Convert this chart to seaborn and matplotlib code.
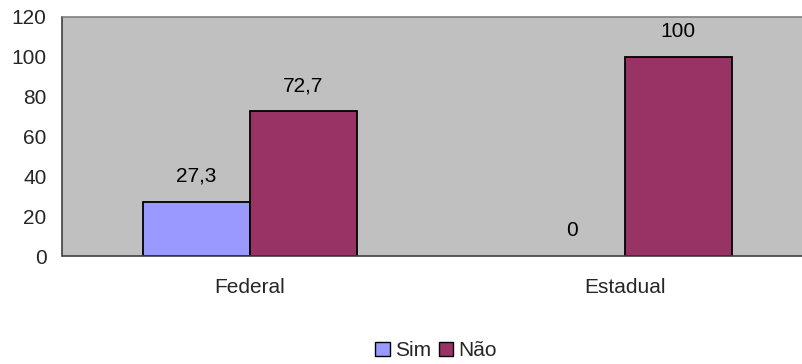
import matplotlib
matplotlib.use("Agg")
import matplotlib.pyplot as plt
import seaborn as sns
import pandas as pd
from matplotlib.patches import Patch

categories = ["Federal", "Estadual"]
series = ["Sim", "Não"]
sim_values = [27.3, 0]
nao_values = [72.7, 100]
yticks = [0, 20, 40, 60, 80, 100, 120]
colors = {"Sim": "#9999FF", "Não": "#993366"}

df = pd.DataFrame({
    "categoria": categories * 2,
    "serie": ["Sim"] * len(categories) + ["Não"] * len(categories),
    "valor": sim_values + nao_values,
})

sns.set_style("white")
plt.rcParams["font.family"] = ["Liberation Sans", "DejaVu Sans"]
FS = 15

fig = plt.figure(figsize=(8.03, 3.64), dpi=100)
ax = fig.add_axes([62.5 / 803, (364 - 256) / 364, (812.5 - 62.5) / 803, (256 - 17) / 364])
ax.set_facecolor("#C0C0C0")

sns.barplot(data=df, x="categoria", y="valor", hue="serie", hue_order=series,
            order=categories, palette=colors, width=0.57, edgecolor="black",
            linewidth=1.3, ax=ax, legend=False, saturation=1)

ax.set_xlim(-0.5, 1.5)
ax.set_ylim(0, 120)
ax.set_yticks(yticks)
ax.set_yticklabels([str(v) for v in yticks], fontsize=FS)
ax.set_xticks([-0.5, 0.5, 1.5])
ax.set_xticklabels(["", "", ""])
ax.set_xticks([0, 1], minor=True)
ax.set_xticklabels(categories, minor=True, fontsize=FS)
ax.tick_params(axis="x", which="minor", length=0, pad=16)
ax.tick_params(axis="x", which="major", length=5, width=1, color="#404040", direction="out")
ax.tick_params(axis="y", length=4.5, width=1, color="#404040", direction="out", pad=7)
ax.set_xlabel("")
ax.set_ylabel("")

for side in ["left", "bottom"]:
    ax.spines[side].set_color("#404040")
    ax.spines[side].set_linewidth(1.2)
ax.spines["top"].set_color("#808080")
ax.spines["top"].set_linewidth(1.2)
ax.spines["right"].set_visible(False)

for container in ax.containers:
    for bar in container:
        h = bar.get_height()
        if h == 0:
            bar.set_linewidth(0)
        label = f"{h:g}".replace(".", ",")
        ax.annotate(label, (bar.get_x() + bar.get_width() / 2, h),
                    xytext=(0, 14.5), textcoords="offset points",
                    ha="center", va="baseline", fontsize=FS, color="black")

handles = [Patch(facecolor=colors[s], edgecolor="black", linewidth=1, label=s) for s in series]
fig.legend(handles=handles, loc="center", bbox_to_anchor=(436 / 803, 1 - 351 / 364),
           ncol=2, frameon=False, fontsize=FS, handlelength=0.68, handleheight=0.62,
           handletextpad=0.25, columnspacing=0.38, borderpad=0)

fig.savefig("out.png", dpi=100)
